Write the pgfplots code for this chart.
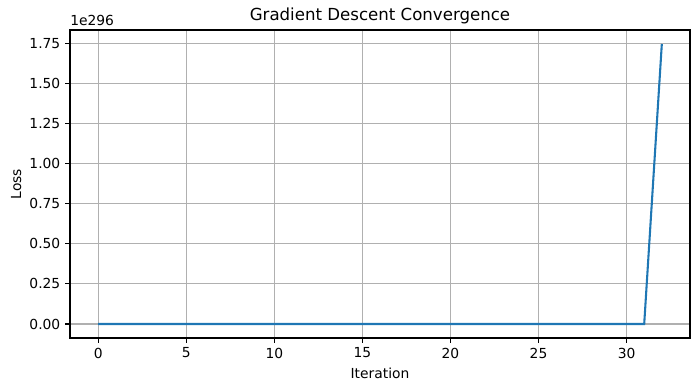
\documentclass[border=0pt]{standalone}
\usepackage{pgfplots}
\pgfplotsset{compat=1.18}
\usepackage{fontspec}
\setmainfont{DejaVu Sans}
\definecolor{c0}{HTML}{1F77B4}
\definecolor{gridc}{HTML}{B0B0B0}
\begin{document}
\begin{tikzpicture}
\begin{axis}[name=ax,
  scale only axis, width=6.2in, height=3.08in,
  xmin=-1.6, xmax=33.6, ymin=-0.08725, ymax=1.83225,
  xtick={0,5,10,15,20,25,30},
  ytick={0,0.25,0.5,0.75,1,1.25,1.5,1.75},
  yticklabel style={/pgf/number format/.cd,fixed,fixed zerofill,precision=2},
  /pgf/number format/assume math mode=true,
  tick label style={font=\fontsize{10}{12}\selectfont},
  grid=major, major grid style={color=gridc, line width=0.8pt},
  tick align=outside, tickwidth=3.5pt, major tick style={black, line width=0.8pt},
  xtick pos=bottom, ytick pos=left,
  axis line style={line width=0.8pt},
  title={Gradient Descent Convergence}, title style={font=\fontsize{12}{14}\selectfont, yshift=-5pt},
  xlabel={Iteration}, ylabel={Loss},
  label style={font=\fontsize{10}{12}\selectfont},
  ylabel style={yshift=-1pt},
  clip=false,
]
\addplot[c0, line width=1.5pt, mark=none] coordinates {
(0,0)(1,0)(2,0)(3,0)(4,0)(5,0)(6,0)(7,0)(8,0)(9,0)(10,0)(11,0)(12,0)(13,0)(14,0)(15,0)
(16,0)(17,0)(18,0)(19,0)(20,0)(21,0)(22,0)(23,0)(24,0)(25,0)(26,0)(27,0)(28,0)(29,0)(30,0)(31,0)(32,1.745)};
\node[anchor=south west, inner sep=0pt, font=\fontsize{10}{12}\selectfont] at ([yshift=3pt]rel axis cs:0,1) {1e296};
\end{axis}
\path ([shift={(-0.70in,-0.53in)}]ax.south west) rectangle ([shift={(0.10in,0.30in)}]ax.north east);
\end{tikzpicture}
\end{document}
